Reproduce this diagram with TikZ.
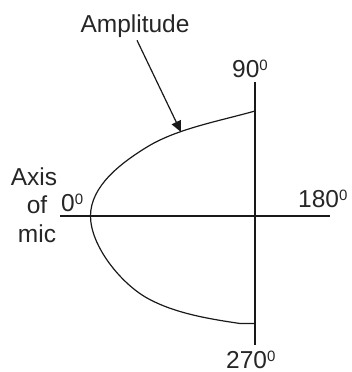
\documentclass[tikz,border=0pt]{standalone}
\usepackage{fontspec}
\setmainfont{Liberation Sans}
\usetikzlibrary{arrows.meta}
\newcommand{\degsup}{\raisebox{7pt}{\fontsize{15}{15}\selectfont 0}}
\begin{document}
\begin{tikzpicture}[x=1pt,y=-1pt,
  lbl/.style={inner sep=0pt,text=black!85,font=\fontsize{24.5}{29}\selectfont},
  axisline/.style={line width=1.3pt,black!90}]
\useasboundingbox (0,0) rectangle (351,372);
% axes
\coordinate (top) at (255,82);
\coordinate (bot) at (255,345);
\coordinate (left) at (60,216);
\coordinate (right) at (330,216);
\draw[axisline] (top) -- (bot);
\draw[axisline] (left) -- (right);
% polar curve
\coordinate (c0) at (255,111);
\coordinate (c1) at (147,147);
\coordinate (c2) at (90.5,216);
\coordinate (c3) at (147,298);
\coordinate (c4) at (240,323.5);
\coordinate (c5) at (255,323.5);
\draw[axisline,line width=1.2pt]
  (c0) .. controls (218.4,121.3) and (176.9,128.7) .. (c1)
       .. controls (121,163) and (90.5,186) .. (c2)
       .. controls (90.5,246) and (121,283.4) .. (c3)
       .. controls (175,313.6) and (210,319) .. (c4) -- (c5);
% labels
\node[lbl,anchor=base] (amp) at (135,32) {Amplitude};
\coordinate (tip) at (181,132);
\draw[line width=1.2pt,black!90,-{Triangle[length=11pt,width=10pt]}] (amp.south) ++(2,3) -- (tip);
\node[lbl,anchor=base west] (n90) at (232,77) {90\degsup};
\node[lbl,anchor=base west] (n180) at (298,207) {180\degsup};
\node[lbl,anchor=base west] (n270) at (226,368) {270\degsup};
\node[lbl,anchor=base west] (n0) at (61,211) {0\degsup};
\node[lbl,anchor=base] (ax1) at (34,185) {Axis};
\node[lbl,anchor=base] (ax2) at (37,213) {of};
\node[lbl,anchor=base] (ax3) at (37,242) {mic};
\end{tikzpicture}
\end{document}
